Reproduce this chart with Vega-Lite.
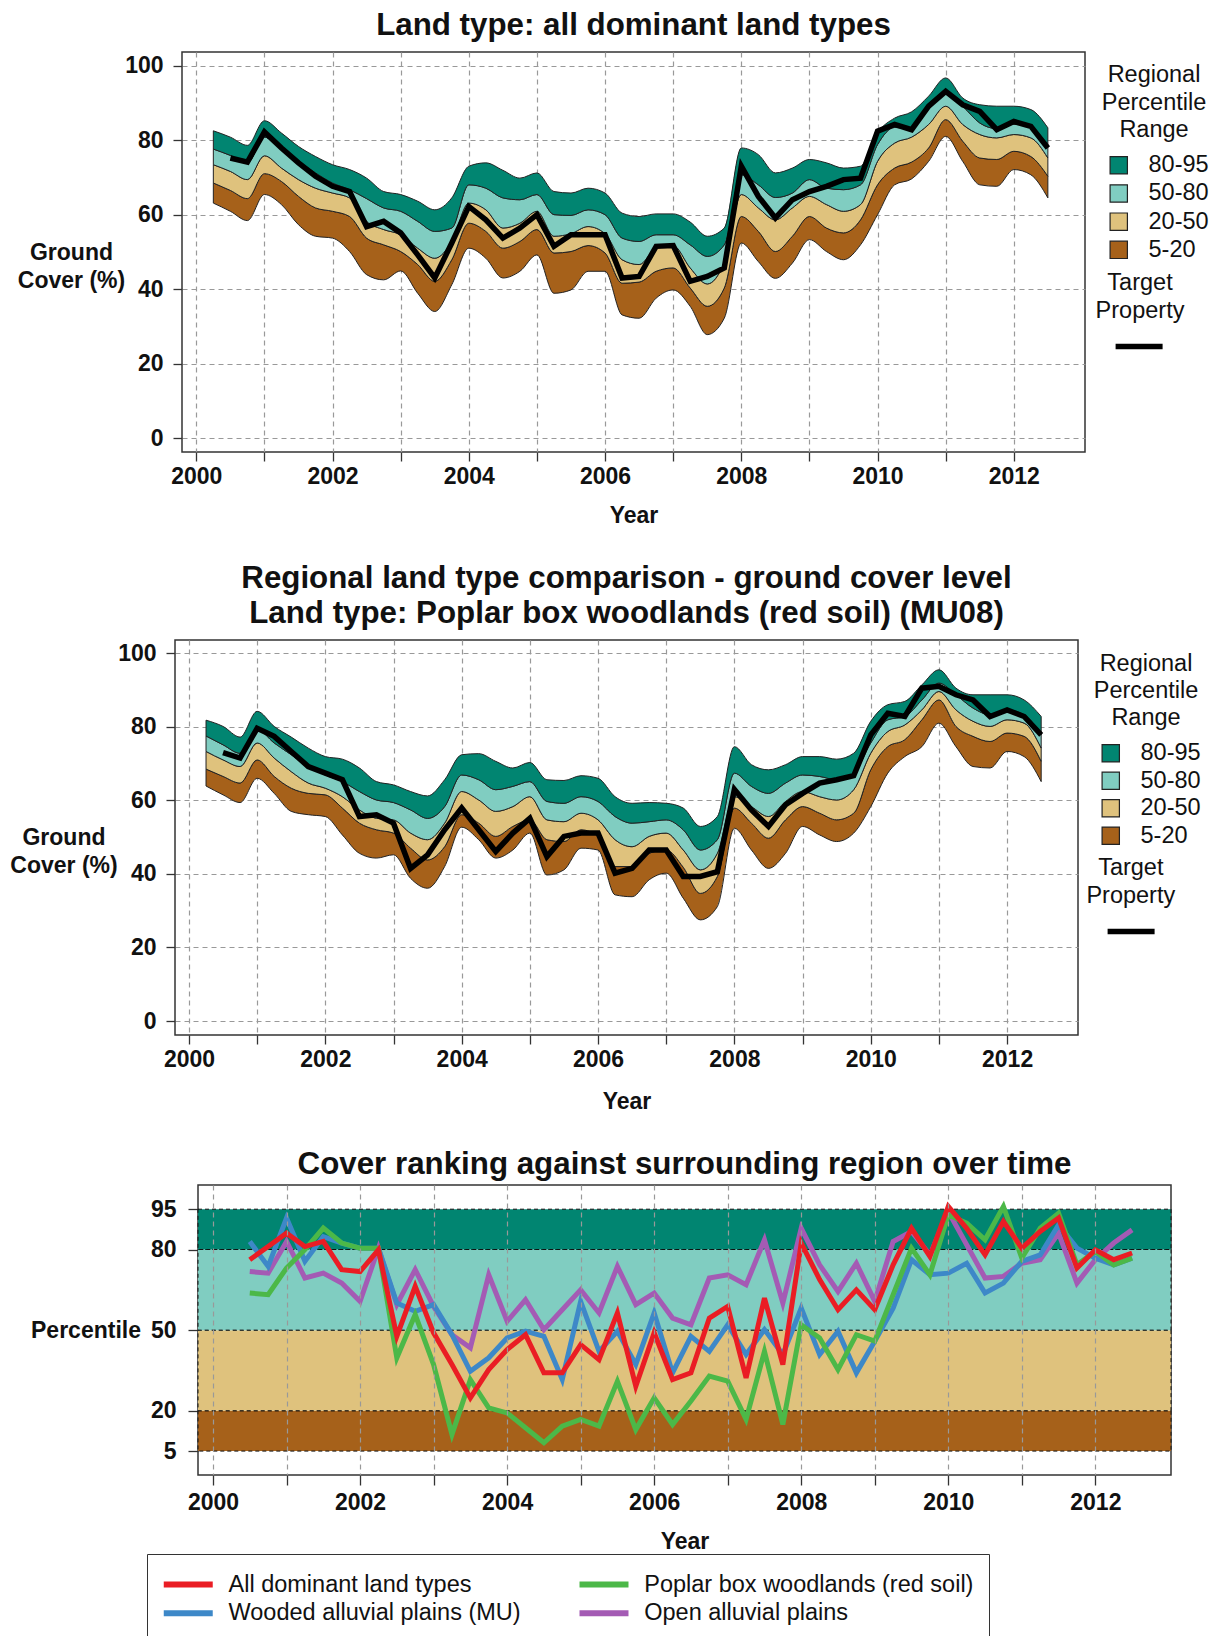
{
"$schema": "https://vega.github.io/schema/vega-lite/v6.json",
"padding": {"left": 7, "top": 8, "right": 0, "bottom": 0},
"background": "white",
"columns": 1,
"spacing": 33,
"resolve": {"scale": {"fill": "independent", "stroke": "independent"}},
"datasets": {
"p1": [
{"t":2000.25,"p5":63.1,"p20":68.5,"p50":73.4,"p80":77.6,"p95":82.5},
{"t":2000.5,"p5":60.9,"p20":66.5,"p50":71.6,"p80":75.9,"p95":80.8},
{"t":2000.75,"p5":58.4,"p20":64.3,"p50":69.4,"p80":73.9,"p95":78.6},
{"t":2001,"p5":65.4,"p20":71.0,"p50":75.8,"p80":80.8,"p95":85.2},
{"t":2001.25,"p5":62.7,"p20":68.9,"p50":72.5,"p80":77.4,"p95":81.9},
{"t":2001.5,"p5":57.3,"p20":64.9,"p50":69.4,"p80":74.3,"p95":78.3},
{"t":2001.75,"p5":54.2,"p20":61.8,"p50":67.1,"p80":71.2,"p95":75.6},
{"t":2002,"p5":53.7,"p20":60.9,"p50":65.8,"p80":68.5,"p95":73.4},
{"t":2002.25,"p5":50.1,"p20":59.5,"p50":64.5,"p80":66.7,"p95":72.1},
{"t":2002.5,"p5":43.9,"p20":53.7,"p50":58.2,"p80":64.3,"p95":69.8},
{"t":2002.75,"p5":42.5,"p20":51.9,"p50":56.0,"p80":61.8,"p95":66.2},
{"t":2003,"p5":44.9,"p20":50.1,"p50":54.6,"p80":60.9,"p95":65.4},
{"t":2003.25,"p5":38.9,"p20":46.6,"p50":51.0,"p80":58.2,"p95":63.6},
{"t":2003.5,"p5":34.0,"p20":42.1,"p50":48.3,"p80":55.5,"p95":61.3},
{"t":2003.75,"p5":41.2,"p20":47.9,"p50":52.8,"p80":56.4,"p95":64.5},
{"t":2004,"p5":51.0,"p20":57.7,"p50":63.1,"p80":68.0,"p95":73.0},
{"t":2004.25,"p5":48.3,"p20":55.5,"p50":61.3,"p80":67.1,"p95":73.9},
{"t":2004.5,"p5":43.0,"p20":51.0,"p50":56.4,"p80":64.5,"p95":71.9},
{"t":2004.75,"p5":44.8,"p20":52.8,"p50":57.7,"p80":64.0,"p95":69.8},
{"t":2005,"p5":49.2,"p20":56.0,"p50":60.9,"p80":65.4,"p95":71.2},
{"t":2005.25,"p5":38.9,"p20":49.7,"p50":54.2,"p80":60.0,"p95":66.2},
{"t":2005.5,"p5":39.8,"p20":50.1,"p50":54.9,"p80":59.8,"p95":65.8},
{"t":2005.75,"p5":44.8,"p20":51.7,"p50":56.8,"p80":61.3,"p95":67.1},
{"t":2006,"p5":44.8,"p20":49.7,"p50":54.9,"p80":60.0,"p95":65.8},
{"t":2006.25,"p5":33.1,"p20":41.6,"p50":47.9,"p80":53.7,"p95":60.4},
{"t":2006.5,"p5":32.2,"p20":41.9,"p50":46.6,"p80":52.8,"p95":59.5},
{"t":2006.75,"p5":37.6,"p20":44.8,"p50":51.0,"p80":54.6,"p95":60.2},
{"t":2007,"p5":39.8,"p20":45.7,"p50":51.7,"p80":54.6,"p95":60.2},
{"t":2007.25,"p5":35.4,"p20":40.3,"p50":45.7,"p80":51.9,"p95":58.0},
{"t":2007.5,"p5":27.8,"p20":35.4,"p50":41.4,"p80":48.8,"p95":54.2},
{"t":2007.75,"p5":32.2,"p20":40.3,"p50":47.4,"p80":51.9,"p95":56.4},
{"t":2008,"p5":52.4,"p20":59.5,"p50":65.4,"p80":70.7,"p95":77.9},
{"t":2008.25,"p5":47.4,"p20":55.5,"p50":61.8,"p80":68.0,"p95":76.1},
{"t":2008.5,"p5":42.9,"p20":50.1,"p50":58.6,"p80":64.6,"p95":71.2},
{"t":2008.75,"p5":47.0,"p20":54.2,"p50":61.8,"p80":65.8,"p95":72.5},
{"t":2009,"p5":53.3,"p20":59.5,"p50":64.9,"p80":69.4,"p95":74.8},
{"t":2009.25,"p5":50.1,"p20":56.4,"p50":62.7,"p80":67.1,"p95":73.9},
{"t":2009.5,"p5":47.9,"p20":55.1,"p50":60.9,"p80":66.7,"p95":72.5},
{"t":2009.75,"p5":51.9,"p20":58.6,"p50":62.7,"p80":68.0,"p95":73.0},
{"t":2010,"p5":60.0,"p20":68.0,"p50":74.3,"p80":78.8,"p95":82.0},
{"t":2010.25,"p5":68.0,"p20":72.5,"p50":79.2,"p80":83.4,"p95":85.9},
{"t":2010.5,"p5":69.6,"p20":74.1,"p50":80.8,"p80":83.2,"p95":87.6},
{"t":2010.75,"p5":74.3,"p20":77.9,"p50":84.2,"p80":88.6,"p95":91.8},
{"t":2011,"p5":81.0,"p20":85.5,"p50":89.1,"p80":92.7,"p95":96.7},
{"t":2011.25,"p5":74.3,"p20":79.7,"p50":84.2,"p80":89.1,"p95":91.3},
{"t":2011.5,"p5":68.0,"p20":75.2,"p50":81.5,"p80":84.6,"p95":89.5},
{"t":2011.75,"p5":67.6,"p20":74.8,"p50":80.6,"p80":83.1,"p95":89.1},
{"t":2012,"p5":72.1,"p20":77.0,"p50":81.5,"p80":84.3,"p95":89.1},
{"t":2012.25,"p5":70.7,"p20":75.6,"p50":80.6,"p80":83.3,"p95":88.2},
{"t":2012.5,"p5":64.5,"p20":70.3,"p50":75.2,"p80":77.9,"p95":83.3}
],
"p1t": [
{"t":2000.5,"cover":75.2},{"t":2000.75,"cover":74.1},{"t":2001,"cover":82.2},{"t":2001.25,"cover":77.9},
{"t":2001.5,"cover":73.9},{"t":2001.75,"cover":70.3},{"t":2002,"cover":67.6},{"t":2002.25,"cover":66.2},
{"t":2002.5,"cover":56.8},{"t":2002.75,"cover":58.2},{"t":2003,"cover":55.1},{"t":2003.25,"cover":49.2},
{"t":2003.5,"cover":43.0},{"t":2003.75,"cover":52.4},{"t":2004,"cover":62.2},{"t":2004.25,"cover":58.6},
{"t":2004.5,"cover":53.7},{"t":2004.75,"cover":56.4},{"t":2005,"cover":60.0},{"t":2005.25,"cover":51.5},
{"t":2005.5,"cover":54.6},{"t":2005.75,"cover":54.6},{"t":2006,"cover":54.6},{"t":2006.25,"cover":43.0},
{"t":2006.5,"cover":43.4},{"t":2006.75,"cover":51.5},{"t":2007,"cover":51.7},{"t":2007.25,"cover":42.1},
{"t":2007.5,"cover":43.4},{"t":2007.75,"cover":45.7},{"t":2008,"cover":73.0},{"t":2008.25,"cover":64.9},
{"t":2008.5,"cover":59.1},{"t":2008.75,"cover":64.0},{"t":2009,"cover":66.2},{"t":2009.25,"cover":67.6},
{"t":2009.5,"cover":69.4},{"t":2009.75,"cover":69.8},{"t":2010,"cover":82.4},{"t":2010.25,"cover":84.2},
{"t":2010.5,"cover":82.8},{"t":2010.75,"cover":89.1},{"t":2011,"cover":93.1},{"t":2011.25,"cover":89.5},
{"t":2011.5,"cover":87.7},{"t":2011.75,"cover":82.8},{"t":2012,"cover":85.0},{"t":2012.25,"cover":83.7},
{"t":2012.5,"cover":77.9}
],
"p2": [
{"t":2000.25,"p5":63.9,"p20":68.5,"p50":73.3,"p80":77.5,"p95":81.8},
{"t":2000.5,"p5":61.5,"p20":66.5,"p50":71.0,"p80":75.1,"p95":80.1},
{"t":2000.75,"p5":59.4,"p20":64.7,"p50":69.2,"p80":72.8,"p95":77.2},
{"t":2001,"p5":66.0,"p20":71.0,"p50":75.6,"p80":79.2,"p95":84.2},
{"t":2001.25,"p5":61.9,"p20":66.5,"p50":71.5,"p80":75.6,"p95":80.1},
{"t":2001.5,"p5":57.0,"p20":63.3,"p50":67.8,"p80":72.4,"p95":77.2},
{"t":2001.75,"p5":56.1,"p20":61.9,"p50":64.7,"p80":69.2,"p95":74.2},
{"t":2002,"p5":55.6,"p20":61.5,"p50":63.3,"p80":66.9,"p95":71.9},
{"t":2002.25,"p5":50.6,"p20":57.9,"p50":61.0,"p80":65.1,"p95":71.2},
{"t":2002.5,"p5":45.6,"p20":53.8,"p50":57.4,"p80":62.4,"p95":68.8},
{"t":2002.75,"p5":44.3,"p20":52.0,"p50":55.1,"p80":60.1,"p95":65.1},
{"t":2003,"p5":45.2,"p20":51.1,"p50":54.7,"p80":59.4,"p95":64.2},
{"t":2003.25,"p5":38.8,"p20":47.0,"p50":51.1,"p80":57.4,"p95":62.4},
{"t":2003.5,"p5":36.1,"p20":43.8,"p50":49.3,"p80":55.1,"p95":61.2},
{"t":2003.75,"p5":42.0,"p20":47.4,"p50":53.8,"p80":58.3,"p95":65.6},
{"t":2004,"p5":52.7,"p20":56.1,"p50":62.4,"p80":66.9,"p95":72.4},
{"t":2004.25,"p5":49.3,"p20":53.8,"p50":60.1,"p80":65.6,"p95":72.7},
{"t":2004.5,"p5":44.3,"p20":50.2,"p50":57.0,"p80":62.9,"p95":70.6},
{"t":2004.75,"p5":46.5,"p20":52.9,"p50":58.3,"p80":63.8,"p95":68.8},
{"t":2005,"p5":51.1,"p20":54.7,"p50":61.0,"p80":65.1,"p95":70.3},
{"t":2005.25,"p5":39.7,"p20":49.3,"p50":54.7,"p80":59.7,"p95":65.6},
{"t":2005.5,"p5":41.1,"p20":48.8,"p50":54.2,"p80":59.2,"p95":65.4},
{"t":2005.75,"p5":47.0,"p20":52.0,"p50":56.5,"p80":61.0,"p95":66.7},
{"t":2006,"p5":46.5,"p20":50.2,"p50":54.7,"p80":59.7,"p95":66.0},
{"t":2006.25,"p5":34.3,"p20":42.0,"p50":49.3,"p80":55.6,"p95":61.0},
{"t":2006.5,"p5":33.8,"p20":42.0,"p50":47.4,"p80":53.8,"p95":59.2},
{"t":2006.75,"p5":38.4,"p20":45.6,"p50":50.2,"p80":54.2,"p95":59.4},
{"t":2007,"p5":40.2,"p20":46.5,"p50":51.1,"p80":54.7,"p95":59.2},
{"t":2007.25,"p5":33.4,"p20":41.8,"p50":46.5,"p80":52.0,"p95":57.9},
{"t":2007.5,"p5":27.5,"p20":34.7,"p50":41.1,"p80":46.5,"p95":52.9},
{"t":2007.75,"p5":31.1,"p20":39.3,"p50":45.6,"p80":49.3,"p95":55.6},
{"t":2008,"p5":52.4,"p20":57.9,"p50":61.0,"p80":67.4,"p95":74.6},
{"t":2008.25,"p5":46.5,"p20":53.8,"p50":58.3,"p80":63.8,"p95":69.7},
{"t":2008.5,"p5":41.5,"p20":49.7,"p50":55.6,"p80":61.9,"p95":68.3},
{"t":2008.75,"p5":45.6,"p20":54.7,"p50":59.7,"p80":64.7,"p95":69.7},
{"t":2009,"p5":52.9,"p20":58.3,"p50":62.4,"p80":66.9,"p95":71.9},
{"t":2009.25,"p5":50.6,"p20":56.5,"p50":61.0,"p80":66.5,"p95":71.9},
{"t":2009.5,"p5":48.8,"p20":54.7,"p50":60.1,"p80":65.6,"p95":71.2},
{"t":2009.75,"p5":51.1,"p20":56.5,"p50":62.9,"p80":67.4,"p95":72.8},
{"t":2010,"p5":58.3,"p20":68.3,"p50":72.8,"p80":75.6,"p95":81.5},
{"t":2010.25,"p5":67.4,"p20":74.6,"p50":78.7,"p80":81.9,"p95":86.0},
{"t":2010.5,"p5":71.9,"p20":76.5,"p50":80.5,"p80":82.8,"p95":86.9},
{"t":2010.75,"p5":74.6,"p20":81.9,"p50":84.6,"p80":87.3,"p95":91.4},
{"t":2011,"p5":81.0,"p20":87.3,"p50":89.6,"p80":91.9,"p95":95.5},
{"t":2011.25,"p5":74.6,"p20":80.1,"p50":84.6,"p80":88.7,"p95":90.5},
{"t":2011.5,"p5":69.2,"p20":77.4,"p50":81.5,"p80":85.1,"p95":88.7},
{"t":2011.75,"p5":68.8,"p20":76.0,"p50":80.1,"p80":83.3,"p95":88.7},
{"t":2012,"p5":73.3,"p20":78.3,"p50":81.9,"p80":84.6,"p95":88.7},
{"t":2012.25,"p5":71.9,"p20":77.4,"p50":81.0,"p80":83.3,"p95":87.3},
{"t":2012.5,"p5":65.1,"p20":70.6,"p50":74.2,"p80":77.8,"p95":82.8}
],
"p2t": [
{"t":2000.5,"cover":73.0},{"t":2000.75,"cover":71.5},{"t":2001,"cover":79.6},{"t":2001.25,"cover":77.4},
{"t":2001.5,"cover":73.3},{"t":2001.75,"cover":69.2},{"t":2002,"cover":67.4},{"t":2002.25,"cover":65.6},
{"t":2002.5,"cover":55.6},{"t":2002.75,"cover":56.1},{"t":2003,"cover":53.8},{"t":2003.25,"cover":41.5},
{"t":2003.5,"cover":45.2},{"t":2003.75,"cover":52.0},{"t":2004,"cover":57.9},{"t":2004.25,"cover":52.0},
{"t":2004.5,"cover":46.1},{"t":2004.75,"cover":51.1},{"t":2005,"cover":55.1},{"t":2005.25,"cover":44.7},
{"t":2005.5,"cover":50.2},{"t":2005.75,"cover":51.1},{"t":2006,"cover":51.1},{"t":2006.25,"cover":40.2},
{"t":2006.5,"cover":41.5},{"t":2006.75,"cover":46.5},{"t":2007,"cover":46.5},{"t":2007.25,"cover":39.3},
{"t":2007.5,"cover":39.3},{"t":2007.75,"cover":40.6},{"t":2008,"cover":63.0},{"t":2008.25,"cover":57.4},
{"t":2008.5,"cover":52.9},{"t":2008.75,"cover":58.8},{"t":2009,"cover":61.9},{"t":2009.25,"cover":64.7},
{"t":2009.5,"cover":65.6},{"t":2009.75,"cover":66.7},{"t":2010,"cover":77.8},{"t":2010.25,"cover":83.7},
{"t":2010.5,"cover":82.8},{"t":2010.75,"cover":90.5},{"t":2011,"cover":91.0},{"t":2011.25,"cover":88.7},
{"t":2011.5,"cover":87.3},{"t":2011.75,"cover":82.8},{"t":2012,"cover":84.6},{"t":2012.25,"cover":82.8},
{"t":2012.5,"cover":77.8}
],
"p3b": [
{"band":"5-20","lo":5,"hi":20},
{"band":"20-50","lo":20,"hi":50},
{"band":"50-80","lo":50,"hi":80},
{"band":"80-95","lo":80,"hi":95}
],
"p3l": [
{"t":2000.5,"series":"Open alluvial plains","pct":71.8},{"t":2000.75,"series":"Open alluvial plains","pct":71.2},{"t":2001,"series":"Open alluvial plains","pct":83.0},{"t":2001.25,"series":"Open alluvial plains","pct":69.4},{"t":2001.5,"series":"Open alluvial plains","pct":71.2},{"t":2001.75,"series":"Open alluvial plains","pct":67.5},{"t":2002,"series":"Open alluvial plains","pct":60.7},{"t":2002.25,"series":"Open alluvial plains","pct":80.5},{"t":2002.5,"series":"Open alluvial plains","pct":59.5},{"t":2002.75,"series":"Open alluvial plains","pct":72.5},
{"t":2003,"series":"Open alluvial plains","pct":58.8},{"t":2003.25,"series":"Open alluvial plains","pct":48.3},{"t":2003.5,"series":"Open alluvial plains","pct":43.4},{"t":2003.75,"series":"Open alluvial plains","pct":70.6},{"t":2004,"series":"Open alluvial plains","pct":53.3},{"t":2004.25,"series":"Open alluvial plains","pct":61.3},{"t":2004.5,"series":"Open alluvial plains","pct":50.2},{"t":2004.75,"series":"Open alluvial plains","pct":57.6},{"t":2005,"series":"Open alluvial plains","pct":65.0},{"t":2005.25,"series":"Open alluvial plains","pct":56.4},
{"t":2005.5,"series":"Open alluvial plains","pct":73.7},{"t":2005.75,"series":"Open alluvial plains","pct":59.5},{"t":2006,"series":"Open alluvial plains","pct":63.8},{"t":2006.25,"series":"Open alluvial plains","pct":54.5},{"t":2006.5,"series":"Open alluvial plains","pct":52.0},{"t":2006.75,"series":"Open alluvial plains","pct":69.4},{"t":2007,"series":"Open alluvial plains","pct":70.6},{"t":2007.25,"series":"Open alluvial plains","pct":66.9},{"t":2007.5,"series":"Open alluvial plains","pct":83.6},{"t":2007.75,"series":"Open alluvial plains","pct":60.1},
{"t":2008,"series":"Open alluvial plains","pct":87.9},{"t":2008.25,"series":"Open alluvial plains","pct":74.3},{"t":2008.5,"series":"Open alluvial plains","pct":64.4},{"t":2008.75,"series":"Open alluvial plains","pct":74.9},{"t":2009,"series":"Open alluvial plains","pct":60.7},{"t":2009.25,"series":"Open alluvial plains","pct":83.0},{"t":2009.5,"series":"Open alluvial plains","pct":86.7},{"t":2009.75,"series":"Open alluvial plains","pct":78.0},{"t":2010,"series":"Open alluvial plains","pct":94.1},{"t":2010.25,"series":"Open alluvial plains","pct":81.8},
{"t":2010.5,"series":"Open alluvial plains","pct":69.4},{"t":2010.75,"series":"Open alluvial plains","pct":70.0},{"t":2011,"series":"Open alluvial plains","pct":74.9},{"t":2011.25,"series":"Open alluvial plains","pct":76.2},{"t":2011.5,"series":"Open alluvial plains","pct":86.1},{"t":2011.75,"series":"Open alluvial plains","pct":67.5},{"t":2012,"series":"Open alluvial plains","pct":76.2},{"t":2012.25,"series":"Open alluvial plains","pct":82.4},{"t":2012.5,"series":"Open alluvial plains","pct":87.3},
{"t":2000.5,"series":"Wooded alluvial plains (MU)","pct":83.0},{"t":2000.75,"series":"Wooded alluvial plains (MU)","pct":73.7},{"t":2001,"series":"Wooded alluvial plains (MU)","pct":91.7},{"t":2001.25,"series":"Wooded alluvial plains (MU)","pct":75.6},{"t":2001.5,"series":"Wooded alluvial plains (MU)","pct":84.8},{"t":2001.75,"series":"Wooded alluvial plains (MU)","pct":82.4},{"t":2002,"series":"Wooded alluvial plains (MU)","pct":80.5},{"t":2002.25,"series":"Wooded alluvial plains (MU)","pct":80.5},{"t":2002.5,"series":"Wooded alluvial plains (MU)","pct":60.1},{"t":2002.75,"series":"Wooded alluvial plains (MU)","pct":57.0},
{"t":2003,"series":"Wooded alluvial plains (MU)","pct":59.5},{"t":2003.25,"series":"Wooded alluvial plains (MU)","pct":48.3},{"t":2003.5,"series":"Wooded alluvial plains (MU)","pct":34.7},{"t":2003.75,"series":"Wooded alluvial plains (MU)","pct":39.7},{"t":2004,"series":"Wooded alluvial plains (MU)","pct":47.1},{"t":2004.25,"series":"Wooded alluvial plains (MU)","pct":49.6},{"t":2004.5,"series":"Wooded alluvial plains (MU)","pct":47.7},{"t":2004.75,"series":"Wooded alluvial plains (MU)","pct":31.6},{"t":2005,"series":"Wooded alluvial plains (MU)","pct":60.7},{"t":2005.25,"series":"Wooded alluvial plains (MU)","pct":42.1},
{"t":2005.5,"series":"Wooded alluvial plains (MU)","pct":49.6},{"t":2005.75,"series":"Wooded alluvial plains (MU)","pct":37.2},{"t":2006,"series":"Wooded alluvial plains (MU)","pct":56.4},{"t":2006.25,"series":"Wooded alluvial plains (MU)","pct":34.1},{"t":2006.5,"series":"Wooded alluvial plains (MU)","pct":47.7},{"t":2006.75,"series":"Wooded alluvial plains (MU)","pct":42.1},{"t":2007,"series":"Wooded alluvial plains (MU)","pct":52.0},{"t":2007.25,"series":"Wooded alluvial plains (MU)","pct":40.9},{"t":2007.5,"series":"Wooded alluvial plains (MU)","pct":50.2},{"t":2007.75,"series":"Wooded alluvial plains (MU)","pct":40.9},
{"t":2008,"series":"Wooded alluvial plains (MU)","pct":58.2},{"t":2008.25,"series":"Wooded alluvial plains (MU)","pct":40.9},{"t":2008.5,"series":"Wooded alluvial plains (MU)","pct":49.6},{"t":2008.75,"series":"Wooded alluvial plains (MU)","pct":34.1},{"t":2009,"series":"Wooded alluvial plains (MU)","pct":45.9},{"t":2009.25,"series":"Wooded alluvial plains (MU)","pct":58.2},{"t":2009.5,"series":"Wooded alluvial plains (MU)","pct":76.2},{"t":2009.75,"series":"Wooded alluvial plains (MU)","pct":70.6},{"t":2010,"series":"Wooded alluvial plains (MU)","pct":71.2},{"t":2010.25,"series":"Wooded alluvial plains (MU)","pct":74.9},
{"t":2010.5,"series":"Wooded alluvial plains (MU)","pct":63.8},{"t":2010.75,"series":"Wooded alluvial plains (MU)","pct":67.5},{"t":2011,"series":"Wooded alluvial plains (MU)","pct":75.6},{"t":2011.25,"series":"Wooded alluvial plains (MU)","pct":78.0},{"t":2011.5,"series":"Wooded alluvial plains (MU)","pct":89.2},{"t":2011.75,"series":"Wooded alluvial plains (MU)","pct":80.5},{"t":2012,"series":"Wooded alluvial plains (MU)","pct":76.8},{"t":2012.25,"series":"Wooded alluvial plains (MU)","pct":74.3},{"t":2012.5,"series":"Wooded alluvial plains (MU)","pct":76.8},
{"t":2000.5,"series":"Poplar box woodlands (red soil)","pct":63.8},{"t":2000.75,"series":"Poplar box woodlands (red soil)","pct":63.2},{"t":2001,"series":"Poplar box woodlands (red soil)","pct":73.1},{"t":2001.25,"series":"Poplar box woodlands (red soil)","pct":80.0},{"t":2001.5,"series":"Poplar box woodlands (red soil)","pct":88.0},{"t":2001.75,"series":"Poplar box woodlands (red soil)","pct":82.4},{"t":2002,"series":"Poplar box woodlands (red soil)","pct":80.5},{"t":2002.25,"series":"Poplar box woodlands (red soil)","pct":80.5},{"t":2002.5,"series":"Poplar box woodlands (red soil)","pct":39.7},{"t":2002.75,"series":"Poplar box woodlands (red soil)","pct":55.8},
{"t":2003,"series":"Poplar box woodlands (red soil)","pct":37.2},{"t":2003.25,"series":"Poplar box woodlands (red soil)","pct":11.2},{"t":2003.5,"series":"Poplar box woodlands (red soil)","pct":31.6},{"t":2003.75,"series":"Poplar box woodlands (red soil)","pct":21.1},{"t":2004,"series":"Poplar box woodlands (red soil)","pct":19.2},{"t":2004.25,"series":"Poplar box woodlands (red soil)","pct":13.7},{"t":2004.5,"series":"Poplar box woodlands (red soil)","pct":8.1},{"t":2004.75,"series":"Poplar box woodlands (red soil)","pct":14.3},{"t":2005,"series":"Poplar box woodlands (red soil)","pct":16.8},{"t":2005.25,"series":"Poplar box woodlands (red soil)","pct":14.3},
{"t":2005.5,"series":"Poplar box woodlands (red soil)","pct":31.0},{"t":2005.75,"series":"Poplar box woodlands (red soil)","pct":13.0},{"t":2006,"series":"Poplar box woodlands (red soil)","pct":24.8},{"t":2006.25,"series":"Poplar box woodlands (red soil)","pct":14.9},{"t":2006.5,"series":"Poplar box woodlands (red soil)","pct":23.6},{"t":2006.75,"series":"Poplar box woodlands (red soil)","pct":32.9},{"t":2007,"series":"Poplar box woodlands (red soil)","pct":31.0},{"t":2007.25,"series":"Poplar box woodlands (red soil)","pct":16.8},{"t":2007.5,"series":"Poplar box woodlands (red soil)","pct":42.1},{"t":2007.75,"series":"Poplar box woodlands (red soil)","pct":14.9},
{"t":2008,"series":"Poplar box woodlands (red soil)","pct":52.0},{"t":2008.25,"series":"Poplar box woodlands (red soil)","pct":47.1},{"t":2008.5,"series":"Poplar box woodlands (red soil)","pct":35.3},{"t":2008.75,"series":"Poplar box woodlands (red soil)","pct":48.3},{"t":2009,"series":"Poplar box woodlands (red soil)","pct":45.9},{"t":2009.25,"series":"Poplar box woodlands (red soil)","pct":63.2},{"t":2009.5,"series":"Poplar box woodlands (red soil)","pct":80.5},{"t":2009.75,"series":"Poplar box woodlands (red soil)","pct":70.6},{"t":2010,"series":"Poplar box woodlands (red soil)","pct":92.9},{"t":2010.25,"series":"Poplar box woodlands (red soil)","pct":89.8},
{"t":2010.5,"series":"Poplar box woodlands (red soil)","pct":83.6},{"t":2010.75,"series":"Poplar box woodlands (red soil)","pct":96.0},{"t":2011,"series":"Poplar box woodlands (red soil)","pct":76.8},{"t":2011.25,"series":"Poplar box woodlands (red soil)","pct":87.9},{"t":2011.5,"series":"Poplar box woodlands (red soil)","pct":93.5},{"t":2011.75,"series":"Poplar box woodlands (red soil)","pct":74.3},{"t":2012,"series":"Poplar box woodlands (red soil)","pct":79.3},{"t":2012.25,"series":"Poplar box woodlands (red soil)","pct":74.3},{"t":2012.5,"series":"Poplar box woodlands (red soil)","pct":76.8},
{"t":2000.5,"series":"All dominant land types","pct":76.2},{"t":2000.75,"series":"All dominant land types","pct":81.1},{"t":2001,"series":"All dominant land types","pct":86.1},{"t":2001.25,"series":"All dominant land types","pct":81.1},{"t":2001.5,"series":"All dominant land types","pct":83.0},{"t":2001.75,"series":"All dominant land types","pct":72.5},{"t":2002,"series":"All dominant land types","pct":71.8},{"t":2002.25,"series":"All dominant land types","pct":79.9},{"t":2002.5,"series":"All dominant land types","pct":47.7},{"t":2002.75,"series":"All dominant land types","pct":66.3},
{"t":2003,"series":"All dominant land types","pct":49.0},{"t":2003.25,"series":"All dominant land types","pct":37.2},{"t":2003.5,"series":"All dominant land types","pct":24.8},{"t":2003.75,"series":"All dominant land types","pct":35.3},{"t":2004,"series":"All dominant land types","pct":42.8},{"t":2004.25,"series":"All dominant land types","pct":48.3},{"t":2004.5,"series":"All dominant land types","pct":34.1},{"t":2004.75,"series":"All dominant land types","pct":34.1},{"t":2005,"series":"All dominant land types","pct":44.6},{"t":2005.25,"series":"All dominant land types","pct":39.0},
{"t":2005.5,"series":"All dominant land types","pct":56.4},{"t":2005.75,"series":"All dominant land types","pct":29.1},{"t":2006,"series":"All dominant land types","pct":49.0},{"t":2006.25,"series":"All dominant land types","pct":31.6},{"t":2006.5,"series":"All dominant land types","pct":34.1},{"t":2006.75,"series":"All dominant land types","pct":54.5},{"t":2007,"series":"All dominant land types","pct":58.8},{"t":2007.25,"series":"All dominant land types","pct":32.2},{"t":2007.5,"series":"All dominant land types","pct":61.9},{"t":2007.75,"series":"All dominant land types","pct":37.2},
{"t":2008,"series":"All dominant land types","pct":82.4},{"t":2008.25,"series":"All dominant land types","pct":68.8},{"t":2008.5,"series":"All dominant land types","pct":57.6},{"t":2008.75,"series":"All dominant land types","pct":65.0},{"t":2009,"series":"All dominant land types","pct":57.6},{"t":2009.25,"series":"All dominant land types","pct":74.3},{"t":2009.5,"series":"All dominant land types","pct":87.9},{"t":2009.75,"series":"All dominant land types","pct":77.4},{"t":2010,"series":"All dominant land types","pct":96.0},{"t":2010.25,"series":"All dominant land types","pct":87.9},
{"t":2010.5,"series":"All dominant land types","pct":78.0},{"t":2010.75,"series":"All dominant land types","pct":90.4},{"t":2011,"series":"All dominant land types","pct":80.5},{"t":2011.25,"series":"All dominant land types","pct":86.7},{"t":2011.5,"series":"All dominant land types","pct":91.7},{"t":2011.75,"series":"All dominant land types","pct":73.1},{"t":2012,"series":"All dominant land types","pct":79.9},{"t":2012.25,"series":"All dominant land types","pct":76.2},{"t":2012.5,"series":"All dominant land types","pct":78.7}
]
},
"concat": [
{
"spacing": 0,
"resolve": {"scale": {"fill": "independent", "stroke": "independent"}},
"hconcat": [
{"width": 7.7, "height": 1, "view": {"stroke": null}, "data": {"values": [{}]}, "mark": {"type": "rule", "opacity": 0}, "encoding": {}},
{
"width": 903, "height": 400,
"title": {"text": "Land type: all dominant land types", "offset": 11},
"encoding": {"x": {"field": "t", "type": "quantitative", "scale": {"domain": [1999.79, 2013.045], "nice": false, "zero": false}, "axis": {"title": "Year", "values": [2000,2001,2002,2003,2004,2005,2006,2007,2008,2009,2010,2011,2012], "format": "d", "labelExpr": "datum.value % 2 === 0 ? datum.label : ''", "titlePadding": 16.5, "labelPadding": 4}}},
"layer": [
{"data": {"name": "p1"}, "mark": {"type": "area", "interpolate": "monotone", "stroke": "#222", "strokeWidth": 1},
 "encoding": {"y": {"field": "p5", "type": "quantitative", "scale": {"domain": [-3.7, 103.65], "nice": false, "zero": false}, "axis": {"title": ["Ground", "Cover (%)"], "values": [0,20,40,60,80,100], "titleAngle": 0, "titleAlign": "center", "titleBaseline": "middle", "titleX": -111, "titleY": 200, "titleLineHeight": 28, "labelPadding": 10}},
  "y2": {"field": "p20"},
  "fill": {"datum": "5-20", "type": "nominal", "scale": {"domain": ["80-95","50-80","20-50","5-20"], "range": ["#018571","#80cdc1","#dfc27d","#a6611a"]},
   "legend": {"orient": "none", "legendX": 918, "legendY": 11, "title": ["Regional","Percentile","Range"], "titleFontSize": 23.5, "titleFontWeight": "normal", "titleColor": "#111", "titleAlign": "center", "titleAnchor": "middle", "titleLineHeight": 27.5, "titlePadding": 12, "labelFontSize": 23.5, "labelColor": "#111", "labelOffset": 18, "symbolType": "square", "symbolSize": 300, "symbolStrokeColor": "#111", "symbolStrokeWidth": 1.2, "symbolOffset": 7, "rowPadding": 3.2, "padding": 0}}}},
{"data": {"name": "p1"}, "mark": {"type": "area", "interpolate": "monotone", "stroke": "#222", "strokeWidth": 1},
 "encoding": {"y": {"field": "p20", "type": "quantitative", "axis": {"title": ["Ground", "Cover (%)"], "values": [0,20,40,60,80,100], "titleAngle": 0, "titleAlign": "center", "titleBaseline": "middle", "titleX": -111, "titleY": 200, "titleLineHeight": 28, "labelPadding": 10}}, "y2": {"field": "p50"}, "fill": {"datum": "20-50", "type": "nominal"}}},
{"data": {"name": "p1"}, "mark": {"type": "area", "interpolate": "monotone", "stroke": "#222", "strokeWidth": 1},
 "encoding": {"y": {"field": "p50", "type": "quantitative", "axis": {"title": ["Ground", "Cover (%)"], "values": [0,20,40,60,80,100], "titleAngle": 0, "titleAlign": "center", "titleBaseline": "middle", "titleX": -111, "titleY": 200, "titleLineHeight": 28, "labelPadding": 10}}, "y2": {"field": "p80"}, "fill": {"datum": "50-80", "type": "nominal"}}},
{"data": {"name": "p1"}, "mark": {"type": "area", "interpolate": "monotone", "stroke": "#222", "strokeWidth": 1},
 "encoding": {"y": {"field": "p80", "type": "quantitative", "axis": {"title": ["Ground", "Cover (%)"], "values": [0,20,40,60,80,100], "titleAngle": 0, "titleAlign": "center", "titleBaseline": "middle", "titleX": -111, "titleY": 200, "titleLineHeight": 28, "labelPadding": 10}}, "y2": {"field": "p95"}, "fill": {"datum": "80-95", "type": "nominal"}}},
{"data": {"name": "p1t"}, "mark": {"type": "line", "strokeWidth": 5.5},
 "encoding": {"y": {"field": "cover", "type": "quantitative", "axis": {"title": ["Ground", "Cover (%)"], "values": [0,20,40,60,80,100], "titleAngle": 0, "titleAlign": "center", "titleBaseline": "middle", "titleX": -111, "titleY": 200, "titleLineHeight": 28, "labelPadding": 10}},
  "stroke": {"datum": "Target Property", "type": "nominal", "scale": {"domain": ["Target Property"], "range": ["#000000"]},
   "legend": {"orient": "none", "legendX": 914, "legendY": 219, "title": ["Target","Property"], "titleFontSize": 23.5, "titleFontWeight": "normal", "titleColor": "#111", "titleAlign": "center", "titleAnchor": "middle", "titleLineHeight": 27.5, "titlePadding": -2, "labelExpr": "''", "labelOffset": 0, "symbolType": "stroke", "symbolSize": 2209, "symbolStrokeWidth": 5.5, "symbolOffset": 5.6, "padding": 0}}}}
]
}
]
},
{
"spacing": 0,
"resolve": {"scale": {"fill": "independent", "stroke": "independent"}},
"hconcat": [
{"width": 1, "height": 1, "view": {"stroke": null}, "data": {"values": [{}]}, "mark": {"type": "rule", "opacity": 0}, "encoding": {}},
{
"width": 903, "height": 395,
"title": {"text": ["Regional land type comparison - ground cover level", "Land type: Poplar box woodlands (red soil) (MU08)"], "offset": 10.5},
"encoding": {"x": {"field": "t", "type": "quantitative", "scale": {"domain": [1999.795, 2013.04], "nice": false, "zero": false}, "axis": {"title": "Year", "values": [2000,2001,2002,2003,2004,2005,2006,2007,2008,2009,2010,2011,2012], "format": "d", "labelExpr": "datum.value % 2 === 0 ? datum.label : ''", "titlePadding": 19, "labelPadding": 4}}},
"layer": [
{"data": {"name": "p2"}, "mark": {"type": "area", "interpolate": "monotone", "stroke": "#222", "strokeWidth": 1},
 "encoding": {"y": {"field": "p5", "type": "quantitative", "scale": {"domain": [-3.8, 103.6], "nice": false, "zero": false}, "axis": {"title": ["Ground", "Cover (%)"], "values": [0,20,40,60,80,100], "titleAngle": 0, "titleAlign": "center", "titleBaseline": "middle", "titleX": -111.5, "titleY": 197, "titleLineHeight": 28, "labelPadding": 10}},
  "y2": {"field": "p20"},
  "fill": {"datum": "5-20", "type": "nominal", "scale": {"domain": ["80-95","50-80","20-50","5-20"], "range": ["#018571","#80cdc1","#dfc27d","#a6611a"]},
   "legend": {"orient": "none", "legendX": 917, "legendY": 12, "title": ["Regional","Percentile","Range"], "titleFontSize": 23.5, "titleFontWeight": "normal", "titleColor": "#111", "titleAlign": "center", "titleAnchor": "middle", "titleLineHeight": 27, "titlePadding": 12, "labelFontSize": 23.5, "labelColor": "#111", "labelOffset": 18, "symbolType": "square", "symbolSize": 300, "symbolStrokeColor": "#111", "symbolStrokeWidth": 1.2, "symbolOffset": 7, "rowPadding": 2.5, "padding": 0}}}},
{"data": {"name": "p2"}, "mark": {"type": "area", "interpolate": "monotone", "stroke": "#222", "strokeWidth": 1},
 "encoding": {"y": {"field": "p20", "type": "quantitative", "axis": {"title": ["Ground", "Cover (%)"], "values": [0,20,40,60,80,100], "titleAngle": 0, "titleAlign": "center", "titleBaseline": "middle", "titleX": -111.5, "titleY": 197, "titleLineHeight": 28, "labelPadding": 10}}, "y2": {"field": "p50"}, "fill": {"datum": "20-50", "type": "nominal"}}},
{"data": {"name": "p2"}, "mark": {"type": "area", "interpolate": "monotone", "stroke": "#222", "strokeWidth": 1},
 "encoding": {"y": {"field": "p50", "type": "quantitative", "axis": {"title": ["Ground", "Cover (%)"], "values": [0,20,40,60,80,100], "titleAngle": 0, "titleAlign": "center", "titleBaseline": "middle", "titleX": -111.5, "titleY": 197, "titleLineHeight": 28, "labelPadding": 10}}, "y2": {"field": "p80"}, "fill": {"datum": "50-80", "type": "nominal"}}},
{"data": {"name": "p2"}, "mark": {"type": "area", "interpolate": "monotone", "stroke": "#222", "strokeWidth": 1},
 "encoding": {"y": {"field": "p80", "type": "quantitative", "axis": {"title": ["Ground", "Cover (%)"], "values": [0,20,40,60,80,100], "titleAngle": 0, "titleAlign": "center", "titleBaseline": "middle", "titleX": -111.5, "titleY": 197, "titleLineHeight": 28, "labelPadding": 10}}, "y2": {"field": "p95"}, "fill": {"datum": "80-95", "type": "nominal"}}},
{"data": {"name": "p2t"}, "mark": {"type": "line", "strokeWidth": 5.5},
 "encoding": {"y": {"field": "cover", "type": "quantitative", "axis": {"title": ["Ground", "Cover (%)"], "values": [0,20,40,60,80,100], "titleAngle": 0, "titleAlign": "center", "titleBaseline": "middle", "titleX": -111.5, "titleY": 197, "titleLineHeight": 28, "labelPadding": 10}},
  "stroke": {"datum": "Target Property", "type": "nominal", "scale": {"domain": ["Target Property"], "range": ["#000000"]},
   "legend": {"orient": "none", "legendX": 911.8, "legendY": 216, "title": ["Target","Property"], "titleFontSize": 23.5, "titleFontWeight": "normal", "titleColor": "#111", "titleAlign": "center", "titleAnchor": "middle", "titleLineHeight": 27.5, "titlePadding": -2, "labelExpr": "''", "labelOffset": 0, "symbolType": "stroke", "symbolSize": 2209, "symbolStrokeWidth": 5.5, "symbolOffset": 8.8, "padding": 0}}}}
]
}
]
},
{
"spacing": 0,
"resolve": {"scale": {"fill": "independent", "stroke": "independent"}},
"hconcat": [
{"width": 20.5, "height": 1, "view": {"stroke": null}, "data": {"values": [{}]}, "mark": {"type": "rule", "opacity": 0}, "encoding": {}},
{
"width": 973, "height": 290,
"title": {"text": "Cover ranking against surrounding region over time", "offset": 5},
"layer": [
{"data": {"name": "p3b"}, "mark": {"type": "rect", "stroke": "#111", "strokeWidth": 1, "strokeDash": [4, 3]},
 "encoding": {"y": {"field": "lo", "type": "quantitative", "scale": {"domain": [-3.9, 104], "nice": false, "zero": false}, "axis": {"title": "Percentile", "values": [5,20,50,80,95], "grid": false, "titleAngle": 0, "titleAlign": "center", "titleBaseline": "middle", "titleX": -112.5, "titleY": 145, "labelPadding": 12, "tickSize": 10}},
  "y2": {"field": "hi"},
  "fill": {"field": "band", "type": "nominal", "scale": {"domain": ["80-95","50-80","20-50","5-20"], "range": ["#018571","#80cdc1","#dfc27d","#a6611a"]}, "legend": null}}},
{"data": {"name": "p3l"}, "mark": {"type": "line", "strokeWidth": 5},
 "encoding": {
  "x": {"field": "t", "type": "quantitative", "scale": {"domain": [1999.796, 2013.029], "nice": false, "zero": false}, "axis": {"title": "Year", "values": [2000,2001,2002,2003,2004,2005,2006,2007,2008,2009,2010,2011,2012], "format": "d", "labelExpr": "datum.value % 2 === 0 ? datum.label : ''", "titlePadding": 16.5, "labelPadding": 6, "tickSize": 10, "zindex": 1}},
  "y": {"field": "pct", "type": "quantitative", "axis": {"title": "Percentile", "values": [5,20,50,80,95], "grid": false, "titleAngle": 0, "titleAlign": "center", "titleBaseline": "middle", "titleX": -112.5, "titleY": 145, "labelPadding": 12, "tickSize": 10}},
  "stroke": {"field": "series", "type": "nominal", "scale": {"domain": ["All dominant land types","Wooded alluvial plains (MU)","Poplar box woodlands (red soil)","Open alluvial plains"], "range": ["#ea1d24","#3d88c8","#4cb848","#a45bb4"]},
   "legend": {"orient": "none", "legendX": -51, "legendY": 369, "title": null, "columns": 2, "columnPadding": 46.75, "strokeColor": "#333", "fillColor": "white", "padding": 14.75, "symbolType": "M-2,0L2,0", "symbolSize": 600, "symbolStrokeWidth": 6, "symbolOffset": 11, "labelFontSize": 23.5, "labelColor": "#111", "labelOffset": 24.75, "labelLimit": 0, "rowPadding": 1}}}}
]
}
]
}
],
"config": {
 "font": "Liberation Sans",
 "view": {"stroke": "#333", "strokeWidth": 1.5},
 "axis": {"labelFontSize": 23, "labelFontWeight": "bold", "labelColor": "#111", "titleFontSize": 23, "titleFontWeight": "bold", "titleColor": "#111", "tickColor": "#333", "tickSize": 9, "tickWidth": 1.3, "domain": false, "grid": true, "gridColor": "#999999", "gridDash": [5, 4], "gridWidth": 1.2, "labelFlush": false, "labelOverlap": false},
 "title": {"fontSize": 31.3, "fontWeight": "bold", "color": "#111", "anchor": "middle", "frame": "group", "lineHeight": 35},
 "legend": {"labelFont": "Liberation Sans", "titleFont": "Liberation Sans"}
}
}
